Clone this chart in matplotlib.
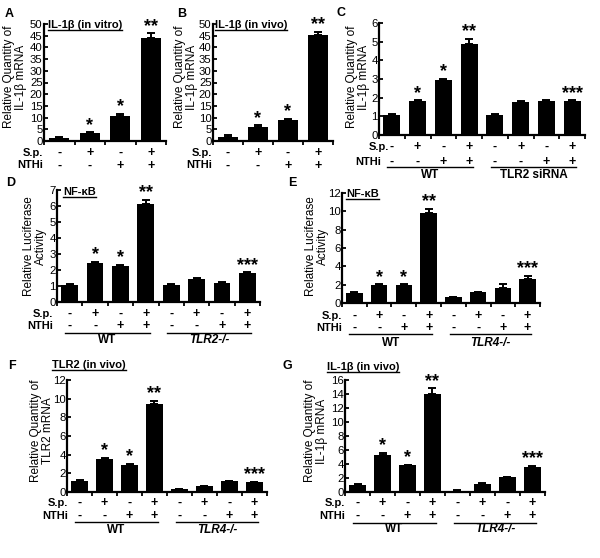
import numpy as np
import matplotlib
matplotlib.use("Agg")
import matplotlib.pyplot as plt
from matplotlib.lines import Line2D
from matplotlib.transforms import blended_transform_factory

plt.rcParams["font.family"] = ["Liberation Sans", "DejaVu Sans"]

W, H = 600, 558

# -----------------------------
# Data
# -----------------------------
sp_4 = ["-", "+", "-", "+"]
nthi_4 = ["-", "-", "+", "+"]
sp_8 = sp_4 * 2
nthi_8 = nthi_4 * 2

a_vals = [1.3, 3.3, 10.8, 44.0]
a_err = [0.3, 0.4, 0.7, 2.0]
a_stars = ["", "*", "*", "**"]

b_vals = [1.8, 6.0, 9.0, 45.5]
b_err = [0.6, 0.7, 0.6, 1.0]
b_stars = ["", "*", "*", "**"]

c_vals = [1.05, 1.8, 2.95, 4.9, 1.05, 1.75, 1.8, 1.8]
c_err = [0.05, 0.05, 0.05, 0.25, 0.05, 0.05, 0.05, 0.05]
c_stars = ["", "*", "*", "**", "", "", "", "***"]

d_vals = [1.05, 2.45, 2.25, 6.15, 1.05, 1.45, 1.2, 1.8]
d_err = [0.05, 0.05, 0.08, 0.25, 0.05, 0.05, 0.05, 0.05]
d_stars = ["", "*", "*", "**", "", "", "", "***"]

e_vals = [1.1, 1.95, 1.95, 9.8, 0.65, 1.15, 1.6, 2.6]
e_err = [0.1, 0.1, 0.1, 0.5, 0.05, 0.05, 0.45, 0.4]
e_stars = ["", "*", "*", "**", "", "", "", "***"]

f_vals = [1.15, 3.5, 2.9, 9.4, 0.3, 0.6, 1.15, 1.05]
f_err = [0.1, 0.15, 0.15, 0.4, 0.05, 0.05, 0.05, 0.05]
f_stars = ["", "*", "*", "**", "", "", "", "***"]

g_vals = [1.0, 5.3, 3.8, 14.0, 0.2, 1.2, 2.1, 3.6]
g_err = [0.1, 0.3, 0.1, 0.8, 0.05, 0.1, 0.1, 0.1]
g_stars = ["", "*", "*", "**", "", "", "", "***"]

qty_il1b = "Relative Quantity of\nIL-1\u03b2 mRNA"
qty_tlr2 = "Relative Quantity of\nTLR2 mRNA"
luc = "Relative Luciferase\nActivity"

fig = plt.figure(figsize=(W / 100, H / 100), dpi=100)
titles = []


def fy(y):
    return 1 - y / H


def make_axes(left, top, right, bottom):
    ax = fig.add_axes([left / W, 1 - bottom / H, (right - left) / W, (bottom - top) / H])
    ax.patch.set_alpha(0)
    return ax


def draw_bars(ax, vals, err, stars, ymax, ystep):
    n = len(vals)
    x = np.arange(n)
    ax.bar(x, vals, width=0.66, color="black", zorder=2)
    ax.errorbar(x, vals, yerr=[np.zeros(n), err], fmt="none", ecolor="black",
                elinewidth=1.4, capsize=3, capthick=1.4, zorder=1)
    for xi, v, e, s in zip(x, vals, err, stars):
        if s:
            ax.annotate(s, (xi, v + e), xytext=(0, -1), textcoords="offset points",
                        ha="center", va="bottom", fontsize=13, fontweight="bold")
    ax.set_xlim(-0.5, n - 0.5)
    ax.set_ylim(0, ymax)
    ax.set_yticks(np.arange(0, ymax + 0.01, ystep))
    ax.set_xticks(np.arange(-0.5, n, 1.0))
    ax.set_xticklabels([])
    for side in ["top", "right"]:
        ax.spines[side].set_visible(False)
    for side in ["left", "bottom"]:
        ax.spines[side].set_linewidth(1.6)
    ax.tick_params(axis="y", direction="in", length=3, width=1.3, pad=1, labelsize=8.2)
    ax.tick_params(axis="x", direction="out", length=3, width=1.3)


def treatments(ax, sp, nthi, y_sp, y_nthi, right_sp, right_nthi):
    tr = blended_transform_factory(ax.transData, fig.transFigure)
    for i, (a, b) in enumerate(zip(sp, nthi)):
        ax.text(i, fy(y_sp), a, transform=tr, ha="center", va="center",
                fontsize=9, fontweight="bold")
        ax.text(i, fy(y_nthi), b, transform=tr, ha="center", va="center",
                fontsize=9, fontweight="bold")
    fig.text(right_sp / W, fy(y_sp), "S.p.", ha="right", va="center",
             fontsize=8, fontweight="bold")
    fig.text(right_nthi / W, fy(y_nthi), "NTHi", ha="right", va="center",
             fontsize=8, fontweight="bold")


def groups(ax, y_line, y_label, label2):
    tr = blended_transform_factory(ax.transData, fig.transFigure)
    for x0, x1, lab, style in [(-0.2, 3.15, "WT", "normal"), (3.85, 7.15, label2[0], label2[1])]:
        ax.plot([x0, x1], [fy(y_line), fy(y_line)], transform=tr, color="black",
                lw=1.0, clip_on=False)
        ax.text((x0 + x1) / 2, fy(y_label), lab, transform=tr, ha="center", va="center",
                fontsize=8.5, fontweight="bold", style=style)


def ylabel(x, y, text):
    fig.text(x / W, fy(y), text, rotation=90, ha="center", va="center",
             multialignment="center", fontsize=8.5, linespacing=0.9)


def title(x, y, text):
    t = fig.text(x / W, fy(y), text, ha="left", va="baseline", fontsize=8, fontweight="bold")
    titles.append((t, y + 2))


def letter(x, y, text):
    fig.text(x / W, fy(y), text, ha="center", va="center", fontsize=9, fontweight="bold")


# -----------------------------
# Panels
# -----------------------------
ax_a = make_axes(44, 24, 166, 141)
draw_bars(ax_a, a_vals, a_err, a_stars, 50, 5)
treatments(ax_a, sp_4, nthi_4, 152.5, 165.5, 43, 43)
ylabel(15, 77, qty_il1b)
title(48, 28, "IL-1\u03b2 (in vitro)")
letter(9, 14, "A")

ax_b = make_axes(213, 24, 333, 141)
draw_bars(ax_b, b_vals, b_err, b_stars, 50, 5)
treatments(ax_b, sp_4, nthi_4, 152.5, 165.5, 212, 212)
ylabel(186, 77, qty_il1b)
title(215, 28, "IL-1\u03b2 (in vivo)")
letter(182, 14, "B")

ax_c = make_axes(379, 23, 585, 135)
draw_bars(ax_c, c_vals, c_err, c_stars, 6, 1)
treatments(ax_c, sp_8, nthi_8, 147, 162, 389, 381)
groups(ax_c, 167, 175, ("TLR2 siRNA", "normal"))
ylabel(358, 77, qty_il1b)
letter(341, 13, "C")

ax_d = make_axes(57, 190, 260, 302)
draw_bars(ax_d, d_vals, d_err, d_stars, 7, 1)
treatments(ax_d, sp_8, nthi_8, 314, 326, 53, 53)
groups(ax_d, 333, 340, ("TLR2-/-", "italic"))
ylabel(35, 246, luc)
title(63, 195, "NF-\u03baB")
letter(11, 183, "D")

ax_e = make_axes(342, 193, 540, 303)
draw_bars(ax_e, e_vals, e_err, e_stars, 12, 2)
treatments(ax_e, sp_8, nthi_8, 316, 328, 342, 342)
groups(ax_e, 334, 343, ("TLR4-/-", "italic"))
ylabel(317, 246, luc)
title(346, 197, "NF-\u03baB")
letter(292, 183, "E")

ax_f = make_axes(67, 380, 267, 492)
draw_bars(ax_f, f_vals, f_err, f_stars, 12, 2)
treatments(ax_f, sp_8, nthi_8, 503, 516, 68, 68)
groups(ax_f, 522, 530, ("TLR4-/-", "italic"))
ylabel(42, 431, qty_tlr2)
title(52, 368, "TLR2 (in vivo)")
letter(12, 366, "F")

ax_g = make_axes(345, 380, 545, 492)
draw_bars(ax_g, g_vals, g_err, g_stars, 16, 2)
treatments(ax_g, sp_8, nthi_8, 503, 516, 345, 345)
groups(ax_g, 523, 529, ("TLR4-/-", "italic"))
ylabel(316, 431, qty_il1b)
title(327, 370, "IL-1\u03b2 (in vivo)")
letter(287, 366, "G")

# underline the panel titles
fig.canvas.draw()
renderer = fig.canvas.get_renderer()
for t, y_line in titles:
    bb = t.get_window_extent(renderer)
    fig.add_artist(Line2D([bb.x0 / W, bb.x1 / W], [fy(y_line), fy(y_line)],
                          transform=fig.transFigure, color="black", lw=1.0))

fig.savefig("out.png", dpi=100)
